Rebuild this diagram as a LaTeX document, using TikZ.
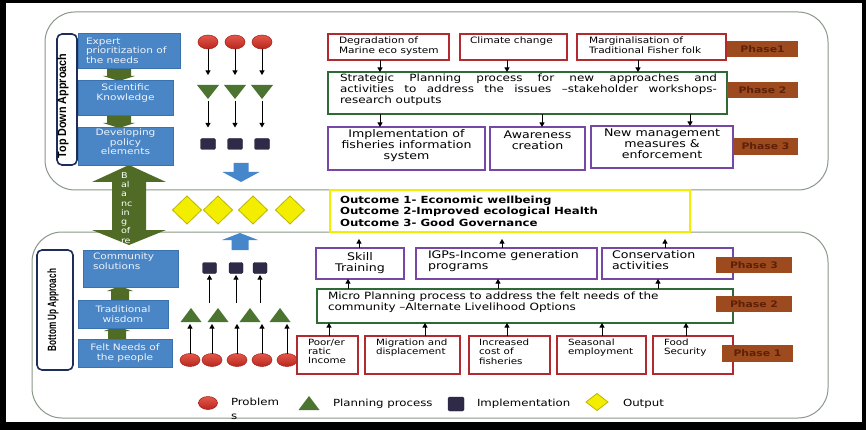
\documentclass[tikz,border=0pt]{standalone}
\usepackage{graphicx}
\usepackage{fontspec}
\setmainfont{DejaVu Sans}[FakeStretch=1.2]
\newfontfamily\labfont{Liberation Sans}
\usetikzlibrary{arrows.meta,shapes.geometric}
\definecolor{bluebox}{HTML}{4A86C6}
\definecolor{blueedge}{HTML}{3A72B0}
\definecolor{bluetext}{HTML}{EEF3FA}
\definecolor{bluearr}{HTML}{4687CC}
\definecolor{grnarr}{HTML}{4F6B26}
\definecolor{trig}{HTML}{4B7430}
\definecolor{redtop}{HTML}{E4574A}
\definecolor{redbot}{HTML}{B8261E}
\definecolor{rededge}{HTML}{9E2018}
\definecolor{sqc}{HTML}{2E2A48}
\definecolor{redc}{HTML}{B22A2E}
\definecolor{grnc}{HTML}{2F6A36}
\definecolor{purc}{HTML}{7747A6}
\definecolor{phasec}{HTML}{9C4A1E}
\definecolor{phasetxt}{HTML}{5E2008}
\definecolor{yel}{HTML}{F3EE00}
\definecolor{yeledge}{HTML}{BDB300}
\definecolor{navy}{HTML}{1D2C58}
\definecolor{outline}{HTML}{8A978A}
\newcommand\fsz[2]{\fontsize{#1}{#2}\selectfont}
\newcommand\tbox[5]{\parbox[c][#2][t]{#1}{\vspace*{#4}#3#5\par}}
\newcommand\cbox[4]{\parbox[c][#2][c]{#1}{#3#4\par}}
\newcommand\lpad[1]{\raggedright\leftskip=#1\relax}
\newcommand\tridn[3]{\coordinate (#1) at (#2,#3); \fill[trig] (#1) ++(-11,-7) -- ++(22,0) -- ++(-11,14) -- cycle;}
\newcommand\triup[3]{\coordinate (#1) at (#2,#3); \fill[trig] (#1) ++(-10.5,7) -- ++(21,0) -- ++(-10.5,-14) -- cycle;}
\newcommand\blkarr[7]{\fill[#7] (#1-#5,#2) -- (#1-#5,#3) -- (#1-#6,#3) -- (#1,#4) -- (#1+#6,#3) -- (#1+#5,#3) -- (#1+#5,#2) -- cycle;}
\begin{document}
\begin{tikzpicture}[x=1pt,y=-1pt,
 every node/.style={inner sep=0pt,outer sep=0pt},
 bluebx/.style={draw=blueedge,fill=bluebox,line width=0.8pt,text=bluetext},
 redbx/.style={draw=redc,line width=1.3pt,fill=white},
 grnbx/.style={draw=grnc,line width=1.8pt,fill=white},
 purbx/.style={draw=purc,line width=1.8pt,fill=white},
 phase/.style={fill=phasec,text=phasetxt,font=\fsz{9}{10}\bfseries,minimum width=71,minimum height=16},
 lblbox/.style={draw=navy,line width=1.6pt,rounded corners=5,fill=white},
 outerbox/.style={draw=outline,line width=1pt,rounded corners=30},
 ballc/.style={ellipse,draw=rededge,line width=0.5pt,top color=redtop,bottom color=redbot,minimum width=20,minimum height=14},
 sq/.style={fill=sqc,draw=sqc!70!black,rounded corners=1.5,minimum width=15,minimum height=11},
 dia/.style={diamond,fill=yel,draw=yeledge,line width=0.8pt,minimum width=29,minimum height=28},
 arr/.style={draw=black,line width=0.9pt,-{Triangle[length=4.5pt,width=5pt]}},
 legtxt/.style={anchor=west,font=\fsz{9.8}{12}},
]
\useasboundingbox (0,0) rectangle (866,430);
\fill[black] (0,0) rectangle (866,430);
\fill[white] (6,3) rectangle (862,422);

% frames
\node[outerbox,minimum width=783,minimum height=178] (topframe) at (436.5,101) {};
\node[outerbox,minimum width=796,minimum height=186] (botframe) at (430,325) {};

% outcome band
\node[draw=yel,line width=2.5pt,fill=white] (yb) at (510,211) {\cbox{360pt}{42pt}{\lpad{10pt}}{\fsz{9.8}{11.5}\bfseries Outcome 1- Economic wellbeing\\Outcome 2-Improved ecological Health\\Outcome 3- Good Governance}};
\node[dia] (d1) at (187,210) {};
\node[dia] (d2) at (218,210) {};
\node[dia] (d3) at (253,210) {};
\node[dia] (d4) at (290,210) {};

% balancing arrow
\fill[grnarr] (129,165) -- (166,182) -- (146,182) -- (146,230) -- (166,230) -- (129,245) -- (92,230) -- (112,230) -- (112,182) -- (92,182) -- cycle;
\node[anchor=west,align=left,text=white,font=\fsz{8}{9.3}] (baltxt) at (121,212.5) {B\\al\\a\\nc\\in\\g\\of\\re\\so};

% green block arrows between blue boxes
\blkarr{119}{68}{76}{81}{12}{16}{grnarr}
\blkarr{119}{115}{123}{128}{12}{16}{grnarr}
\blkarr{117}{339}{331}{326}{9}{13}{grnarr}
\blkarr{120}{300}{291}{286}{9}{13}{grnarr}

% approach labels
\node[lblbox,minimum width=20,minimum height=131] (tdbox) at (67,99.5) {};
\node[rotate=90,font=\labfont\bfseries\fsz{12}{12}] (tdtext) at (63,106) {\scalebox{0.9}[1]{Top Down Approach}};
\node[lblbox,minimum width=36,minimum height=120] (bubox) at (55,310) {};
\node[rotate=90,font=\labfont\bfseries\fsz{12}{12}] (butext) at (53,310) {\scalebox{0.68}[1]{Bottom Up Approach}};

% blue boxes
\node[bluebx] (be) at (129,50.5) {\cbox{102pt}{35pt}{\lpad{8pt}}{\fsz{8.8}{9.5}Expert\\prioritization of\\the needs}};
\node[bluebx] (bs) at (125.5,97.5) {\tbox{95pt}{35pt}{\centering}{4pt}{\fsz{8.8}{9.5}Scientific\\Knowledge}};
\node[bluebx] (bd) at (125.5,146) {\tbox{95pt}{38pt}{\centering}{2pt}{\fsz{8.8}{9.5}Developing\\policy\\elements}};
\node[bluebx] (bc) at (130.5,268.5) {\tbox{95pt}{37pt}{\lpad{10pt}}{3pt}{\fsz{8.8}{10}Community\\solutions}};
\node[bluebx] (bt) at (123,314) {\cbox{90pt}{28pt}{\centering}{\fsz{8.8}{10}Traditional\\wisdom}};
\node[bluebx] (bf) at (125,353) {\cbox{94pt}{28pt}{\centering}{\fsz{8.8}{10}Felt Needs of\\the people}};

% top symbol columns
\node[ballc] (c1) at (208,42) {};
\node[ballc] (c2) at (235,42) {};
\node[ballc] (c3) at (262,42) {};
\tridn{t1}{208}{92}
\tridn{t2}{235}{92}
\tridn{t3}{262}{92}
\node[sq] (q1) at (208,144) {};
\node[sq] (q2) at (235,144) {};
\node[sq] (q3) at (262,144) {};
\draw[arr,shorten >=17pt] (c1.south) -- (t1);
\draw[arr,shorten >=17pt] (c2.south) -- (t2);
\draw[arr,shorten >=17pt] (c3.south) -- (t3);
\draw[arr,shorten <=9pt,shorten >=11pt] (t1) -- (q1.north);
\draw[arr,shorten <=9pt,shorten >=11pt] (t2) -- (q2.north);
\draw[arr,shorten <=9pt,shorten >=11pt] (t3) -- (q3.north);
\blkarr{241}{163}{172}{182}{7.5}{18.5}{bluearr}

% bottom symbol columns
\node[ballc,minimum height=13] (cb1) at (190,360) {};
\node[ballc,minimum height=13] (cb2) at (212,360) {};
\node[ballc,minimum height=13] (cb3) at (237,360) {};
\node[ballc,minimum height=13] (cb4) at (262,360) {};
\node[ballc,minimum height=13] (cb5) at (287,360) {};
\triup{tb1}{191}{315}
\triup{tb2}{218}{315}
\triup{tb3}{250}{315}
\triup{tb4}{280}{315}
\node[sq,minimum width=14] (qb1) at (209.5,268) {};
\node[sq,minimum width=14] (qb2) at (236,268) {};
\node[sq,minimum width=14] (qb3) at (260,268) {};
\draw[arr,shorten >=9pt] (cb1.north) -- (cb1.north |- tb1);
\draw[arr,shorten >=9pt] (cb2.north) -- (cb2.north |- tb1);
\draw[arr,shorten >=9pt] (cb3.north) -- (cb3.north |- tb1);
\draw[arr,shorten >=9pt] (cb4.north) -- (cb4.north |- tb1);
\draw[arr,shorten >=9pt] (cb5.north) -- (cb5.north |- tb1);
\draw[arr,shorten <=12pt,shorten >=1.5pt] (qb1.south |- tb1) -- (qb1.south);
\draw[arr,shorten <=12pt,shorten >=1.5pt] (qb2.south |- tb1) -- (qb2.south);
\draw[arr,shorten <=12pt,shorten >=1.5pt] (qb3.south |- tb1) -- (qb3.south);
\blkarr{240}{250}{240}{233}{8.5}{18}{bluearr}

% top right flow
\node[redbx] (r1) at (388.5,47) {\tbox{121pt}{26pt}{\lpad{11pt}}{3pt}{\fsz{8.8}{9.5}Degradation of\\Marine eco system}};
\node[redbx] (r2) at (513.5,47) {\tbox{107pt}{26pt}{\lpad{10pt}}{3pt}{\fsz{8.8}{9.5}Climate change}};
\node[redbx] (r3) at (651.5,47) {\tbox{149pt}{26pt}{\lpad{12pt}}{3pt}{\fsz{8.8}{9.5}Marginalisation of\\Traditional Fisher folk}};
\node[grnbx] (g1) at (527.5,93) {\tbox{399pt}{42pt}{\leftskip=12pt\rightskip=10pt\tolerance=10000\relax}{2pt}{\fsz{10}{11}Strategic Planning process for new approaches and\linebreak activities to address the issues –stakeholder workshops-\linebreak research outputs}};
\node[purbx] (p1) at (406.5,148.5) {\tbox{157pt}{43pt}{\centering}{2.5pt}{\fsz{10.5}{11}Implementation of\\fisheries information\\system}};
\node[purbx] (p2) at (537.5,148.5) {\tbox{95pt}{43pt}{\centering}{3.5pt}{\fsz{10.5}{11}Awareness\\creation}};
\node[purbx] (p3) at (662,147) {\tbox{142pt}{42pt}{\centering}{2.5pt}{\fsz{10.5}{11}New management\\measures \&\\enforcement}};
\draw[arr] (r1.south -| 380,0) -- (g1.north -| 380,0);
\draw[arr] (r2.south -| 507,0) -- (g1.north -| 507,0);
\draw[arr] (r3.south -| 638,0) -- (g1.north -| 638,0);
\draw[arr] (g1.south -| 380,0) -- (p1.north -| 380,0);
\draw[arr] (g1.south -| 542,0) -- (p2.north -| 542,0);
\draw[arr] (g1.south -| 690,0) -- (p3.north -| 690,0);

% bottom right flow
\node[purbx] (s) at (360,263.5) {\cbox{88pt}{31pt}{\centering}{\fsz{10.5}{11}Skill\\Training}};
\node[purbx] (ig) at (506.5,263.5) {\tbox{181pt}{31pt}{\lpad{12pt}}{2.5pt}{\fsz{10.5}{11}IGPs-Income generation\\programs}};
\node[purbx] (cn) at (667.5,263.5) {\tbox{131pt}{31pt}{\lpad{10pt}}{2.5pt}{\fsz{10.5}{11}Conservation\\activities}};
\node[grnbx] (m) at (525,306) {\tbox{416pt}{34pt}{\lpad{11pt}}{3pt}{\fsz{10}{10.5}Micro Planning process to address the felt needs of the\\community –Alternate Livelihood Options}};
\node[redbx] (b1) at (327.5,355) {\tbox{61pt}{38pt}{\lpad{11pt}}{3pt}{\fsz{8.6}{9.3}Poor/er\\ratic\\Income}};
\node[redbx] (b2) at (412.5,355) {\tbox{95pt}{38pt}{\lpad{11pt}}{3pt}{\fsz{8.6}{9.3}Migration and\\displacement}};
\node[redbx] (b3) at (509.5,355) {\tbox{81pt}{38pt}{\lpad{10pt}}{3pt}{\fsz{8.6}{9.3}Increased\\cost of\\fisheries}};
\node[redbx] (b4) at (601.5,355) {\tbox{89pt}{38pt}{\lpad{11pt}}{3pt}{\fsz{8.6}{9.3}Seasonal\\employment}};
\node[redbx] (b5) at (693,355) {\tbox{80pt}{38pt}{\lpad{11pt}}{3pt}{\fsz{8.6}{9.3}Food\\Security}};
\draw[arr,shorten >=7pt] (s.north -| 359,0) -- (yb.south -| 359,0);
\draw[arr,shorten >=7pt] (ig.north -| 502,0) -- (yb.south -| 502,0);
\draw[arr,shorten >=7pt] (cn.north -| 665,0) -- (yb.south -| 665,0);
\draw[arr] (m.north -| 348,0) -- (s.south -| 348,0);
\draw[arr] (m.north -| 498,0) -- (ig.south -| 498,0);
\draw[arr] (m.north -| 658,0) -- (cn.south -| 658,0);
\draw[arr] (b1.north -| 329,0) -- (m.south -| 329,0);
\draw[arr] (b2.north -| 425,0) -- (m.south -| 425,0);
\draw[arr] (b3.north -| 507,0) -- (m.south -| 507,0);
\draw[arr] (b4.north -| 602,0) -- (m.south -| 602,0);
\draw[arr] (b5.north -| 686,0) -- (m.south -| 686,0);

% phase labels
\node[phase] (ph1a) at (762.5,49) {Phase1};
\node[phase] (ph2a) at (762.5,90) {Phase 2};
\node[phase,minimum width=65,minimum height=17] (ph3a) at (765.5,146.5) {Phase 3};
\node[phase,minimum width=76] (ph3b) at (754,265) {Phase 3};
\node[phase,minimum width=76] (ph2b) at (754,304) {Phase 2};
\node[phase,minimum height=17] (ph1b) at (757.5,353.5) {Phase 1};

% legend
\node[ballc,minimum width=19,minimum height=13] (lc) at (208,403) {};
\node[anchor=west,align=left,font=\fsz{9.8}{14}] (lct) at (231,409) {Problem\\s};
\triup{lt}{309}{403}
\node[legtxt] (ltt) at (333,404) {Planning process};
\node[sq,minimum width=16,minimum height=14] (ls) at (456,404) {};
\node[legtxt] (lst) at (477,404) {Implementation};
\node[dia,minimum width=22,minimum height=17] (ld) at (597,402) {};
\node[legtxt] (ldt) at (623,404) {Output};
\end{tikzpicture}
\end{document}
